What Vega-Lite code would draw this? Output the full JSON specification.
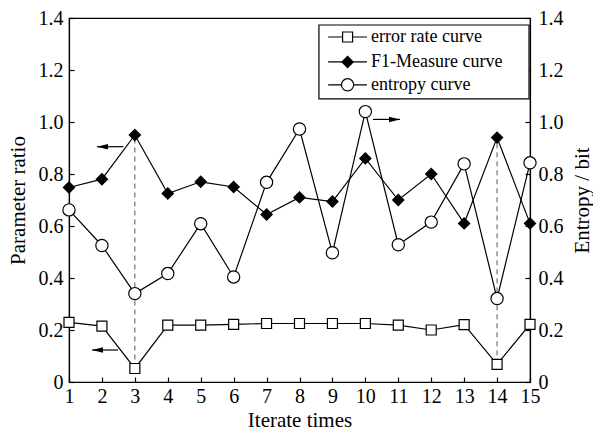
{
  "$schema": "https://vega.github.io/schema/vega-lite/v6.json",
  "width": 461,
  "height": 364,
  "autosize": {"type": "none"},
  "padding": {"left": 69, "top": 18, "right": 63, "bottom": 52},
  "background": "white",
  "config": {
    "font": "Liberation Serif",
    "view": {"stroke": "black", "strokeWidth": 1.2},
    "text": {"font": "Liberation Serif"},
    "style": {
      "guide-label": {"font": "Liberation Serif", "fontSize": 20, "fill": "black"},
      "guide-title": {"font": "Liberation Serif", "fontSize": 21, "fill": "black", "fontWeight": "normal"}
    },
    "axis": {
      "labelFont": "Liberation Serif",
      "titleFont": "Liberation Serif",
      "labelFontSize": 20,
      "titleFontSize": 21,
      "titleFontWeight": "normal",
      "labelColor": "black",
      "titleColor": "black",
      "domainColor": "black",
      "tickColor": "black",
      "domainWidth": 1.2,
      "tickWidth": 1.2,
      "labelOverlap": false,
      "grid": false
    },
    "axisX": {"labelOverlap": false, "labelFont": "Liberation Serif"},
    "axisY": {"labelFont": "Liberation Serif", "titleFont": "Liberation Serif"}
  },
  "datasets": {
    "pts": [
      {"x": 1, "s": "err", "v": 0.229}, {"x": 2, "s": "err", "v": 0.215}, {"x": 3, "s": "err", "v": 0.052},
      {"x": 4, "s": "err", "v": 0.219}, {"x": 5, "s": "err", "v": 0.219}, {"x": 6, "s": "err", "v": 0.222},
      {"x": 7, "s": "err", "v": 0.225}, {"x": 8, "s": "err", "v": 0.225}, {"x": 9, "s": "err", "v": 0.225},
      {"x": 10, "s": "err", "v": 0.225}, {"x": 11, "s": "err", "v": 0.219}, {"x": 12, "s": "err", "v": 0.2},
      {"x": 13, "s": "err", "v": 0.221}, {"x": 14, "s": "err", "v": 0.068}, {"x": 15, "s": "err", "v": 0.222},
      {"x": 1, "s": "f1", "v": 0.748}, {"x": 2, "s": "f1", "v": 0.78}, {"x": 3, "s": "f1", "v": 0.95},
      {"x": 4, "s": "f1", "v": 0.725}, {"x": 5, "s": "f1", "v": 0.77}, {"x": 6, "s": "f1", "v": 0.75},
      {"x": 7, "s": "f1", "v": 0.644}, {"x": 8, "s": "f1", "v": 0.71}, {"x": 9, "s": "f1", "v": 0.694},
      {"x": 10, "s": "f1", "v": 0.86}, {"x": 11, "s": "f1", "v": 0.7}, {"x": 12, "s": "f1", "v": 0.8},
      {"x": 13, "s": "f1", "v": 0.61}, {"x": 14, "s": "f1", "v": 0.94}, {"x": 15, "s": "f1", "v": 0.61},
      {"x": 1, "s": "ent", "v": 0.662}, {"x": 2, "s": "ent", "v": 0.525}, {"x": 3, "s": "ent", "v": 0.34},
      {"x": 4, "s": "ent", "v": 0.417}, {"x": 5, "s": "ent", "v": 0.609}, {"x": 6, "s": "ent", "v": 0.404},
      {"x": 7, "s": "ent", "v": 0.768}, {"x": 8, "s": "ent", "v": 0.973}, {"x": 9, "s": "ent", "v": 0.497},
      {"x": 10, "s": "ent", "v": 1.04}, {"x": 11, "s": "ent", "v": 0.528}, {"x": 12, "s": "ent", "v": 0.615},
      {"x": 13, "s": "ent", "v": 0.839}, {"x": 14, "s": "ent", "v": 0.321}, {"x": 15, "s": "ent", "v": 0.843}
    ],
    "dash": [
      {"x": 3, "y": 0.052, "y2": 0.95},
      {"x": 14, "y": 0.068, "y2": 0.94}
    ],
    "arrowLines": [
      {"x": 1.85, "x2": 2.65, "y": 0.905},
      {"x": 1.7, "x2": 2.49, "y": 0.123},
      {"x": 10.23, "x2": 11.05, "y": 1.01}
    ],
    "headsLeft": [
      {"x": 1.85, "y": 0.905},
      {"x": 1.7, "y": 0.123}
    ],
    "headsRight": [
      {"x": 11.05, "y": 1.01}
    ],
    "legBox": [{"x": 8.59, "x2": 14.97, "y": 1.373, "y2": 1.089}],
    "legLines": [
      {"x": 8.87, "x2": 10.05, "y": 1.327},
      {"x": 8.87, "x2": 10.05, "y": 1.231},
      {"x": 8.87, "x2": 10.05, "y": 1.143}
    ],
    "legMarks": [
      {"x": 9.46, "y": 1.327, "s": "err"},
      {"x": 9.46, "y": 1.231, "s": "f1"},
      {"x": 9.46, "y": 1.143, "s": "ent"}
    ],
    "legText": [
      {"x": 10.17, "y": 1.327, "t": "error rate curve"},
      {"x": 10.17, "y": 1.231, "t": "F1-Measure curve"},
      {"x": 10.17, "y": 1.143, "t": "entropy curve"}
    ]
  },
  "encoding": {
    "x": {
      "field": "x", "type": "quantitative", "title": "Iterate times",
      "scale": {"domain": [1, 15], "nice": false, "zero": false},
      "axis": {"values": [1,2,3,4,5,6,7,8,9,10,11,12,13,14,15], "tickSize": -5, "labelPadding": 9, "titlePadding": 3,
               "labelFont": "Liberation Serif", "titleFont": "Liberation Serif", "labelOverlap": false, "labelFlush": false, "labelBound": false}
    }
  },
  "resolve": {"axis": {"y": "independent"}},
  "layer": [
    {
      "data": {"name": "pts"},
      "transform": [{"filter": "datum.s !== 'ent'"}],
      "mark": {"type": "line", "color": "black", "strokeWidth": 1.2},
      "encoding": {
        "y": {
          "field": "v", "type": "quantitative", "title": "Parameter ratio",
          "scale": {"domain": [0, 1.4], "nice": false},
          "axis": {"orient": "left", "values": [0, 0.2, 0.4, 0.6, 0.8, 1.0, 1.2, 1.4], "tickSize": -5, "labelPadding": 11, "titlePadding": 10,
                   "labelFont": "Liberation Serif", "titleFont": "Liberation Serif", "labelOverlap": false, "labelFlush": false,
                   "labelExpr": "datum.value == 0 ? '0' : format(datum.value, '.1f')"}
        },
        "detail": {"field": "s"}
      }
    },
    {
      "data": {"name": "pts"},
      "transform": [{"filter": "datum.s === 'ent'"}],
      "mark": {"type": "line", "color": "black", "strokeWidth": 1.2},
      "encoding": {
        "y": {
          "field": "v", "type": "quantitative", "title": "Entropy / bit",
          "axis": {"orient": "right", "values": [0, 0.2, 0.4, 0.6, 0.8, 1.0, 1.2, 1.4], "tickSize": -5, "labelPadding": 13, "titlePadding": 8, "titleAngle": 270, "titleBaseline": "top",
                   "labelFont": "Liberation Serif", "titleFont": "Liberation Serif", "labelOverlap": false, "labelFlush": false,
                   "labelExpr": "datum.value == 0 ? '0' : format(datum.value, '.1f')"}
        }
      }
    },
    {
      "data": {"name": "dash"},
      "mark": {"type": "rule", "color": "#555", "strokeDash": [5, 4], "strokeWidth": 1},
      "encoding": {
        "y": {"field": "y", "type": "quantitative", "axis": null},
        "y2": {"field": "y2"}
      }
    },
    {
      "data": {"name": "pts"},
      "mark": {"type": "point", "stroke": "black", "strokeWidth": 1.2, "opacity": 1, "filled": false},
      "encoding": {
        "y": {"field": "v", "type": "quantitative", "axis": null},
        "shape": {"field": "s", "type": "nominal", "legend": null, "scale": {"domain": ["err", "f1", "ent"], "range": ["square", "diamond", "circle"]}},
        "fill": {"field": "s", "type": "nominal", "legend": null, "scale": {"domain": ["err", "f1", "ent"], "range": ["white", "black", "white"]}},
        "size": {"field": "s", "type": "nominal", "legend": null, "scale": {"domain": ["err", "f1", "ent"], "range": [100, 150, 110]}}
      }
    },
    {
      "data": {"name": "arrowLines"},
      "mark": {"type": "rule", "color": "black", "strokeWidth": 1.2},
      "encoding": {
        "x2": {"field": "x2"},
        "y": {"field": "y", "type": "quantitative", "axis": null}
      }
    },
    {
      "data": {"name": "headsLeft"},
      "mark": {"type": "point", "filled": true, "color": "black", "opacity": 1, "size": 120, "shape": "M0,0L2,-0.5L2,0.5Z"},
      "encoding": {
        "y": {"field": "y", "type": "quantitative", "axis": null}
      }
    },
    {
      "data": {"name": "headsRight"},
      "mark": {"type": "point", "filled": true, "color": "black", "opacity": 1, "size": 120, "shape": "M0,0L-2,-0.5L-2,0.5Z"},
      "encoding": {
        "y": {"field": "y", "type": "quantitative", "axis": null}
      }
    },
    {
      "data": {"name": "legBox"},
      "mark": {"type": "rect", "fill": "white", "stroke": "black", "strokeWidth": 1.2},
      "encoding": {
        "x2": {"field": "x2"},
        "y": {"field": "y", "type": "quantitative", "axis": null},
        "y2": {"field": "y2"}
      }
    },
    {
      "data": {"name": "legLines"},
      "mark": {"type": "rule", "color": "black", "strokeWidth": 1.2},
      "encoding": {
        "x2": {"field": "x2"},
        "y": {"field": "y", "type": "quantitative", "axis": null}
      }
    },
    {
      "data": {"name": "legMarks"},
      "mark": {"type": "point", "stroke": "black", "strokeWidth": 1.2, "opacity": 1, "filled": false},
      "encoding": {
        "y": {"field": "y", "type": "quantitative", "axis": null},
        "shape": {"field": "s", "type": "nominal", "legend": null},
        "fill": {"field": "s", "type": "nominal", "legend": null},
        "size": {"field": "s", "type": "nominal", "legend": null}
      }
    },
    {
      "data": {"name": "legText"},
      "mark": {"type": "text", "align": "left", "baseline": "middle", "font": "Liberation Serif", "fontSize": 18, "color": "black"},
      "encoding": {
        "y": {"field": "y", "type": "quantitative", "axis": null},
        "text": {"field": "t"}
      }
    }
  ]
}
